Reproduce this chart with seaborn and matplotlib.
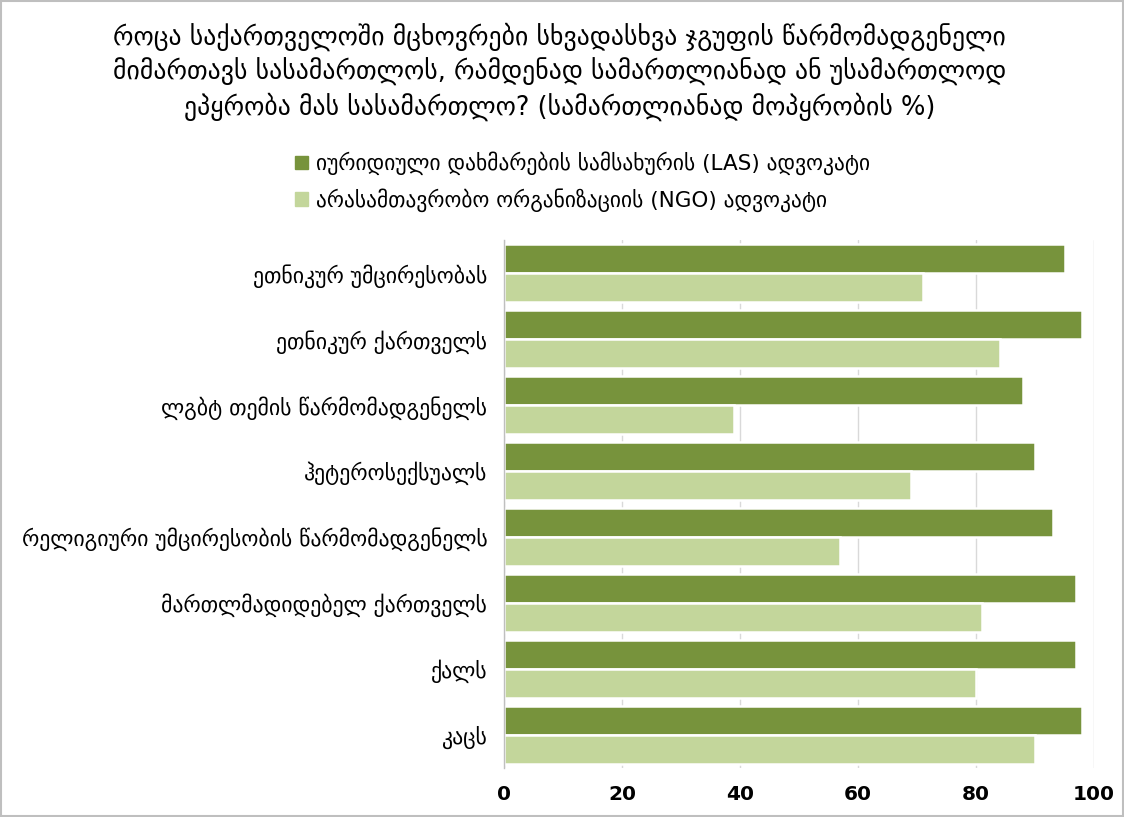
import matplotlib
matplotlib.use("Agg")
import matplotlib.pyplot as plt
import seaborn as sns
import pandas as pd
from matplotlib.patches import Rectangle

categories = [
    "ეთნიკურ უმცირესობას",
    "ეთნიკურ ქართველს",
    "ლგბტ თემის წარმომადგენელს",
    "ჰეტეროსექსუალს",
    "რელიგიური უმცირესობის წარმომადგენელს",
    "მართლმადიდებელ ქართველს",
    "ქალს",
    "კაცს",
]
las_values = [95, 98, 88, 90, 93, 97, 97, 98]
ngo_values = [71, 84, 39, 69, 57, 81, 80, 90]
series_names = [
    "იურიდიული დახმარების სამსახურის (LAS) ადვოკატი",
    "არასამთავრობო ორგანიზაციის (NGO) ადვოკატი",
]
x_ticks = [0, 20, 40, 60, 80, 100]
title = ("როცა საქართველოში მცხოვრები სხვადასხვა ჯგუფის წარმომადგენელი\n"
         "მიმართავს სასამართლოს, რამდენად სამართლიანად ან უსამართლოდ\n"
         "ეპყრობა მას სასამართლო? (სამართლიანად მოპყრობის %)")

df = pd.DataFrame({
    "cat": categories * 2,
    "val": las_values + ngo_values,
    "series": [series_names[0]] * len(categories) + [series_names[1]] * len(categories),
})

sns.set_theme(style="white")
plt.rcParams["font.family"] = ["DejaVu Sans"]
plt.rcParams["text.color"] = "black"
plt.rcParams["xtick.color"] = "black"
plt.rcParams["ytick.color"] = "black"

fig = plt.figure(figsize=(11.24, 8.17), dpi=100)
ax = fig.add_axes([0.4484, 0.06, 0.525, 0.646])

sns.barplot(data=df, y="cat", x="val", hue="series", order=categories,
            hue_order=series_names, palette=["#77933C", "#C3D69B"],
            orient="h", width=0.88, saturation=1, linewidth=1.8,
            edgecolor="white", ax=ax, legend=False)

ax.set_xlim(0, 100)
ax.set_ylim(len(categories) - 0.5, -0.5)
ax.set_xticks(x_ticks)
ax.set_xticklabels([str(t) for t in x_ticks], fontsize=14.5, fontweight="bold")
ax.tick_params(axis="y", labelsize=15.7, length=0, pad=12)
ax.tick_params(axis="x", length=0, pad=12)
ax.set_xlabel("")
ax.set_ylabel("")
ax.grid(axis="x", color="#D9D9D9", linewidth=1)
ax.set_axisbelow(True)
for s in ["top", "right", "bottom"]:
    ax.spines[s].set_visible(False)
ax.spines["left"].set_color("#BFBFBF")
ax.spines["left"].set_linewidth(1)

fig.text(0.498, 0.972, title, ha="center", va="top", fontsize=18.5, linespacing=1.3)

# legend
handles = [Rectangle((0, 0), 1, 1, color=c) for c in ["#77933C", "#C3D69B"]]
fig.legend(handles, series_names, loc="upper left", bbox_to_anchor=(0.245, 0.838),
           frameon=False, fontsize=15.5, handlelength=0.6, handleheight=0.6,
           handletextpad=0.4, labelspacing=0.6)

fig.patches.append(Rectangle((0.001, 0.001), 0.998, 0.998, transform=fig.transFigure,
                             fill=False, edgecolor="#BFBFBF", linewidth=1.5))

fig.savefig("out.png", dpi=100, facecolor="white")
